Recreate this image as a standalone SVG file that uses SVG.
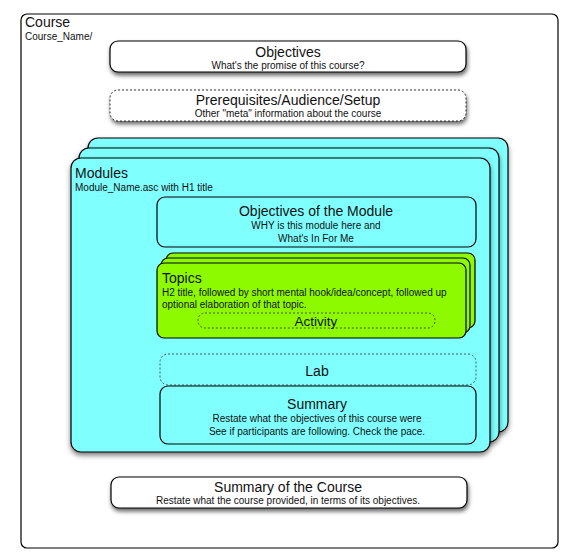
<svg xmlns="http://www.w3.org/2000/svg" width="576" height="553" viewBox="0 0 576 553">
<defs>
<filter id="sh" x="-10%" y="-30%" width="120%" height="170%">
<feDropShadow dx="1" dy="3" stdDeviation="2" flood-color="#000" flood-opacity="0.6"/>
</filter>
<filter id="sh2" x="-10%" y="-10%" width="120%" height="120%">
<feDropShadow dx="0" dy="3" stdDeviation="2.5" flood-color="#000" flood-opacity="0.5"/>
</filter>
</defs>
<style>
text{font-family:"Liberation Sans",Arial,sans-serif;fill:#111;}
.t{font-size:14px;}
.s{font-size:10px;}
.c{text-anchor:middle;}
.box{fill:#fff;stroke:#000;stroke-width:1.2;}
.dash{fill:#fff;stroke:#000;stroke-width:0.8;stroke-dasharray:2 2;}
.cy{fill:#80ffff;stroke:#000;stroke-width:1.2;}
.cyd{fill:#80ffff;stroke:#333;stroke-width:0.8;stroke-dasharray:2 2;}
.gr{fill:#8efa00;stroke:#000;stroke-width:1.2;}
.grd{fill:#8efa00;stroke:#333;stroke-width:0.8;stroke-dasharray:2 2;}
</style>
<rect width="576" height="553" fill="#fff"/>
<g id="course">
<rect x="21" y="14" width="537" height="534" rx="6" fill="#fff" stroke="#000" stroke-width="1.2"/>
<text class="t" x="25" y="27">Course</text>
<text class="s" x="25" y="40">Course_Name/</text>
</g>
<g id="objectives">
<rect class="box" x="110" y="41" width="356" height="31" rx="8" filter="url(#sh)"/>
<text class="t c" x="288" y="57">Objectives</text>
<text class="s c" x="288" y="69">What's the promise of this course?</text>
</g>
<g id="prerequisites">
<rect class="dash" x="110" y="90" width="356" height="31" rx="8" filter="url(#sh)"/>
<text class="t c" x="288" y="105">Prerequisites/Audience/Setup</text>
<text class="s c" x="288" y="117">Other "meta" information about the course</text>
</g>
<g id="modules">
<rect class="cy" x="88" y="138" width="420" height="294" rx="10" filter="url(#sh2)"/>
<rect class="cy" x="79" y="148" width="420" height="294" rx="10" filter="url(#sh2)"/>
<rect class="cy" x="71" y="158" width="419" height="294" rx="10" filter="url(#sh2)"/>
<text class="t" x="75" y="178">Modules</text>
<text class="s" x="75" y="191">Module_Name.asc with H1 title</text>
</g>
<g id="module-objectives">
<rect class="cy" x="157" y="197" width="319" height="50" rx="8"/>
<text class="t c" x="316" y="216">Objectives of the Module</text>
<text class="s c" x="316" y="229">WHY is this module here and</text>
<text class="s c" x="316" y="242">What's In For Me</text>
</g>
<g id="topics">
<rect class="gr" x="166" y="253" width="309" height="75" rx="7"/>
<rect class="gr" x="161" y="258" width="309" height="75" rx="7"/>
<rect class="gr" x="157" y="263" width="309" height="75" rx="7"/>
<text class="t" x="162" y="283">Topics</text>
<text class="s" x="162" y="296">H2 title, followed by short mental hook/idea/concept, followed up</text>
<text class="s" x="162" y="308">optional elaboration of that topic.</text>
</g>
<g id="activity">
<rect class="grd" x="198" y="313" width="237" height="15" rx="7"/>
<text class="c" x="316" y="326" style="font-size:13.5px">Activity</text>
</g>
<g id="lab">
<rect class="cyd" x="160" y="354" width="316" height="31" rx="8"/>
<text class="t c" x="317" y="376">Lab</text>
</g>
<g id="summary">
<rect class="cy" x="160" y="386" width="316" height="58" rx="8"/>
<text class="t c" x="317" y="409">Summary</text>
<text class="s c" x="317" y="422">Restate what the objectives of this course were</text>
<text class="s c" x="317" y="435">See if participants are following. Check the pace.</text>
</g>
<g id="course-summary">
<rect class="box" x="111" y="477" width="356" height="31" rx="8" filter="url(#sh)"/>
<text class="t c" x="288" y="492">Summary of the Course</text>
<text class="s c" x="288" y="504">Restate what the course provided, in terms of its objectives.</text>
</g>
<g id="connectors"/>
</svg>
